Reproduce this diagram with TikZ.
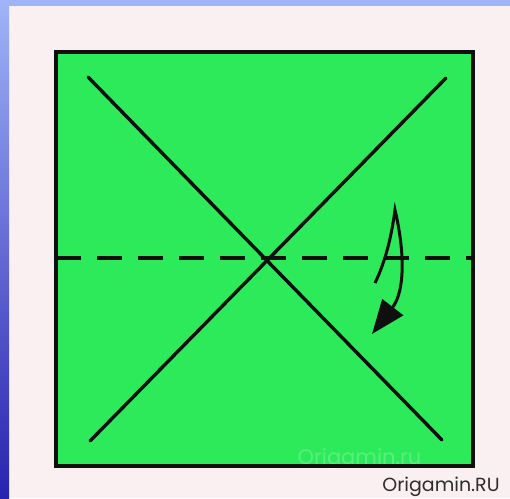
\documentclass[tikz,border=0pt]{standalone}
\usepackage{fontspec}
\newfontfamily\pop{Poppins}
\usetikzlibrary{arrows.meta}
\definecolor{paper}{RGB}{250,240,242}
\definecolor{sheet}{RGB}{44,234,90}
\definecolor{bluetop}{RGB}{160,180,248}
\definecolor{bluebot}{RGB}{40,34,176}
\definecolor{ink}{RGB}{15,15,15}
\tikzset{
  fold/.style={line width=3.4pt, color=ink, line cap=round},
  valley/.style={line width=3.6pt, color=ink, dash pattern=on 25pt off 16pt},
  turnarrow/.style={line width=3pt, color=ink, -{Triangle[length=34pt,width=26pt]}},
}
\begin{document}
\begin{tikzpicture}[x=1pt,y=-1pt]
\useasboundingbox (0,0) rectangle (510,498);
\fill[paper] (0,0) rectangle (510,498);
\fill[bluetop] (0,0) rectangle (510,6);
\shade[top color=bluetop, bottom color=bluebot] (0,0) rectangle (9,498);
% sheet
\fill[sheet] (56,52) rectangle (473,466);
% watermark
\node[font=\pop\fontsize{21}{21}\selectfont, text=white, opacity=0.22, anchor=west] (wm) at (294,459) {Origamin.ru};
\draw[line width=3.6pt, color=ink] (56,52) rectangle (473,466);
% diagonals
\draw[fold] (88,77) -- (442,440);
\draw[fold] (446,78) -- (90,441);
% valley fold
\draw[valley] (56,258) -- (473,258);
% turn-over arrow
\draw[turnarrow] (375,283) .. controls (387,258) and (392,232) .. (395,210)
   .. controls (404,248) and (406,290) .. (372,334);
% credit
\node[font=\pop\fontsize{19}{20}\selectfont, text={rgb,255:red,45;green,45;blue,45}, anchor=center] (credit) at (441,487) {Origamin.RU};
\end{tikzpicture}
\end{document}
